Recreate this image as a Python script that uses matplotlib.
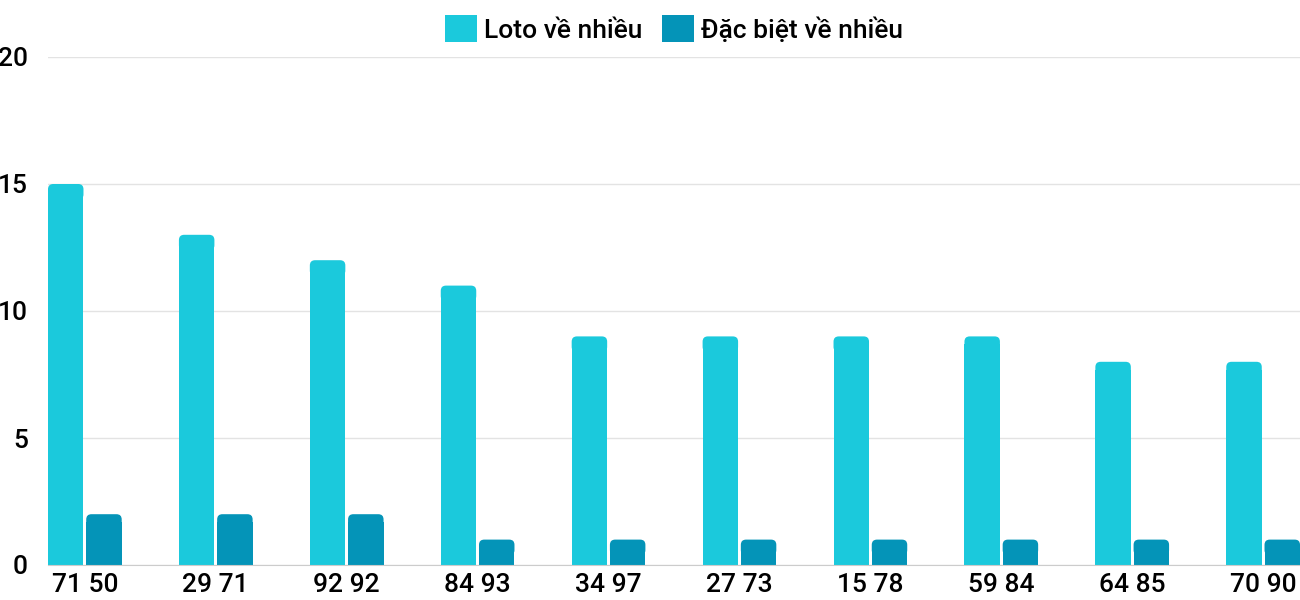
import matplotlib
matplotlib.use("Agg")
import matplotlib.pyplot as plt
from matplotlib.patches import FancyBboxPatch
import numpy as np

plt.rcParams['font.family'] = ['Roboto', 'DejaVu Sans']
plt.rcParams['font.weight'] = 'medium'

labels = ["71 50", "29 71", "92 92", "84 93", "34 97", "27 73", "15 78", "59 84", "64 85", "70 90"]
loto = [15, 13, 12, 11, 9, 9, 9, 9, 8, 8]
dacbiet = [2, 2, 2, 1, 1, 1, 1, 1, 1, 1]

c_loto = "#1bc9dc"
c_db = "#0494b8"

fig = plt.figure(figsize=(13, 6), dpi=100)
ax = fig.add_axes([48 / 1300, 35 / 600, 1252 / 1300, 508 / 600])

x = np.arange(len(labels))
w = 0.271
off = 0.146

b1 = ax.bar(x - off, loto, w, color=c_loto, label="Loto về nhiều", zorder=3)
b2 = ax.bar(x + off, dacbiet, w, color=c_db, label="Đặc biệt về nhiều", zorder=3)

# bo tròn góc trên
r = 0.04
asp = (20 / 508) / (1 / 130.9)
ry = r * asp
for bars, col in [(b1, c_loto), (b2, c_db)]:
    for b in bars:
        h = b.get_height()
        p = FancyBboxPatch((b.get_x(), h - 3 * ry), b.get_width(), 3 * ry,
                           boxstyle="round,pad=0,rounding_size=%f" % r,
                           mutation_aspect=asp, facecolor=col, edgecolor="none",
                           linewidth=0, zorder=3)
        ax.add_patch(p)
        b.set_height(h - 1.5 * ry)

ax.set_xlim(-off - w / 2, len(labels) - 1 + off + w / 2)
ax.set_ylim(0, 20)
ax.set_yticks([0, 5, 10, 15, 20])
ax.set_xticks(x)
ax.set_xticklabels(labels)
ax.tick_params(axis="both", length=0, labelsize=19, colors="black")
ax.tick_params(axis="y", pad=14.5)
ax.tick_params(axis="x", pad=6)
for lab in ax.get_yticklabels():
    lab.set_horizontalalignment("right")

ax.grid(axis="y", color="#e3e3e3", linewidth=1, zorder=0)
for s in ["top", "right", "left"]:
    ax.spines[s].set_visible(False)
ax.spines["bottom"].set_color("#cccccc")
ax.spines["bottom"].set_zorder(4)

ax.legend(loc="center", bbox_to_anchor=(0.5, 1.0 + 28 / 508), ncol=2, frameon=False,
          fontsize=19, handlelength=1.2, handleheight=1.2, handletextpad=0.27,
          columnspacing=0.75)

fig.savefig("out.png")
